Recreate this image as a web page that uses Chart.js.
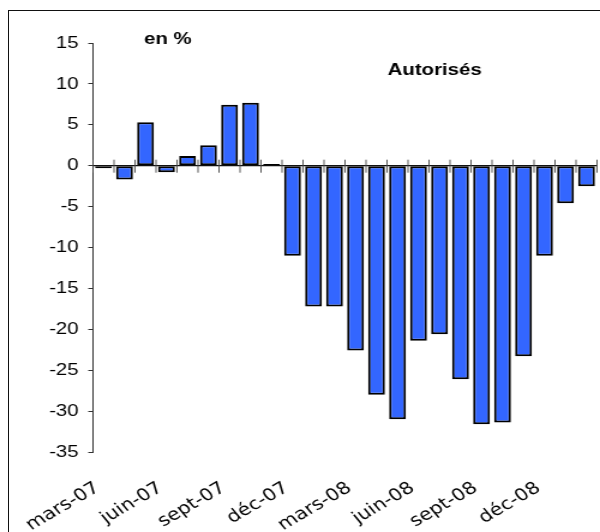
<!DOCTYPE html>
<html>
<head>
<meta charset="utf-8">
<script src="https://cdn.jsdelivr.net/npm/chart.js@4/dist/chart.umd.min.js"></script>
<style>
  html, body { margin: 0; padding: 0; background: #fff; overflow: hidden; }
  #wrap { position: relative; width: 600px; height: 532px; overflow: hidden; }
  #frame { position: absolute; left: 8px; top: 10px; width: 700px; height: 700px;
           border-left: 1.5px solid #111; border-top: 1.5px solid #111; }
  /* the original picture is stretched horizontally, so the chart is drawn narrower and widened */
  canvas { position: absolute; left: 0; top: 0; transform: scaleX(1.2); transform-origin: 0 0; }
</style>
</head>
<body>
<div id="wrap">
  <div id="frame"></div>
  <canvas id="chart" width="500" height="532"></canvas>
</div>
<script>
  // months mars-07 .. févr-09
  var months = ["mars-07", "avr-07", "mai-07", "juin-07", "juil-07", "août-07", "sept-07", "oct-07",
                "nov-07", "déc-07", "janv-08", "févr-08", "mars-08", "avr-08", "mai-08", "juin-08",
                "juil-08", "août-08", "sept-08", "oct-08", "nov-08", "déc-08", "janv-09", "févr-09"];
  var autorises = [-0.3, -1.7, 5.3, -0.8, 1.2, 2.5, 7.45, 7.7,
                   0.2, -11.0, -17.2, -17.2, -22.6, -28.0, -31.0, -21.4,
                   -20.6, -26.1, -31.6, -31.4, -23.3, -11.0, -4.6, -2.5];
  var shownLabels = ["mars-07", "juin-07", "sept-07", "déc-07", "mars-08", "juin-08", "sept-08", "déc-08"];
  var yTicks = [15, 10, 5, 0, -5, -10, -15, -20, -25, -30, -35];

  // zero line with tick marks crossing it, drawn under the bars
  var zeroAxis = {
    id: 'zeroAxis',
    beforeDatasetsDraw: function (chart) {
      var c = chart.ctx, x = chart.scales.x, y = chart.scales.y;
      var y0 = y.getPixelForValue(0);
      var step = x.getPixelForValue(1) - x.getPixelForValue(0);
      c.save();
      c.strokeStyle = '#111';
      c.lineWidth = 1.2;
      c.beginPath();
      c.moveTo(chart.chartArea.left, y0);
      c.lineTo(chart.chartArea.right, y0);
      c.stroke();
      c.strokeStyle = '#444';
      c.lineWidth = 0.9;
      for (var i = 0; i <= months.length; i++) {
        var px = x.getPixelForValue(0) - step / 2 + i * step;
        c.beginPath();
        c.moveTo(px, y0 - 6);
        c.lineTo(px, y0 + 7);
        c.stroke();
      }
      c.restore();
    }
  };

  var notes = {
    id: 'notes',
    afterDraw: function (chart) {
      var c = chart.ctx;
      c.save();
      c.fillStyle = '#000';
      c.font = 'bold 17px "Liberation Sans", Arial, sans-serif';
      c.textBaseline = 'middle';
      c.fillText('en %', 120, 39);
      c.fillText('Autorisés', 323, 70);
      c.restore();
    }
  };

  new Chart(document.getElementById('chart').getContext('2d'), {
    type: 'bar',
    data: {
      labels: months,
      datasets: [{
        label: 'Autorisés',
        data: autorises,
        backgroundColor: '#3366FF',
        borderColor: '#000',
        borderWidth: 2,
        borderSkipped: false,
        barPercentage: 0.8,
        categoryPercentage: 1.0
      }]
    },
    options: {
      responsive: false,
      animation: false,
      devicePixelRatio: 1,
      layout: { padding: { top: 43, right: 2.5, left: 0, bottom: 0 } },
      plugins: { legend: { display: false }, tooltip: { enabled: false }, title: { display: false } },
      scales: {
        x: {
          grid: { display: false },
          border: { display: false },
          afterFit: function (s) { s.height = 80; s.paddingLeft = 0; s.paddingRight = 0; },
          ticks: {
            autoSkip: false,
            minRotation: 35,
            maxRotation: 35,
            padding: 18,
            labelOffset: -5,
            color: '#000',
            font: { family: '"DejaVu Sans", Verdana, sans-serif', size: 17 },
            callback: function (v, i) {
              var lab = months[i];
              return shownLabels.indexOf(lab) >= 0 ? lab : '';
            }
          }
        },
        y: {
          min: -35,
          max: 15,
          afterFit: function (s) { s.width = 77.5; },
          afterBuildTicks: function (s) { s.ticks = yTicks.map(function (v) { return { value: v }; }); },
          grid: { drawOnChartArea: false, tickLength: 4, color: '#333' },
          border: { color: '#333', width: 1 },
          ticks: {
            padding: 8,
            color: '#000',
            font: { family: '"Liberation Sans", Arial, sans-serif', size: 17 }
          }
        }
      }
    },
    plugins: [zeroAxis, notes]
  });
</script>
</body>
</html>
